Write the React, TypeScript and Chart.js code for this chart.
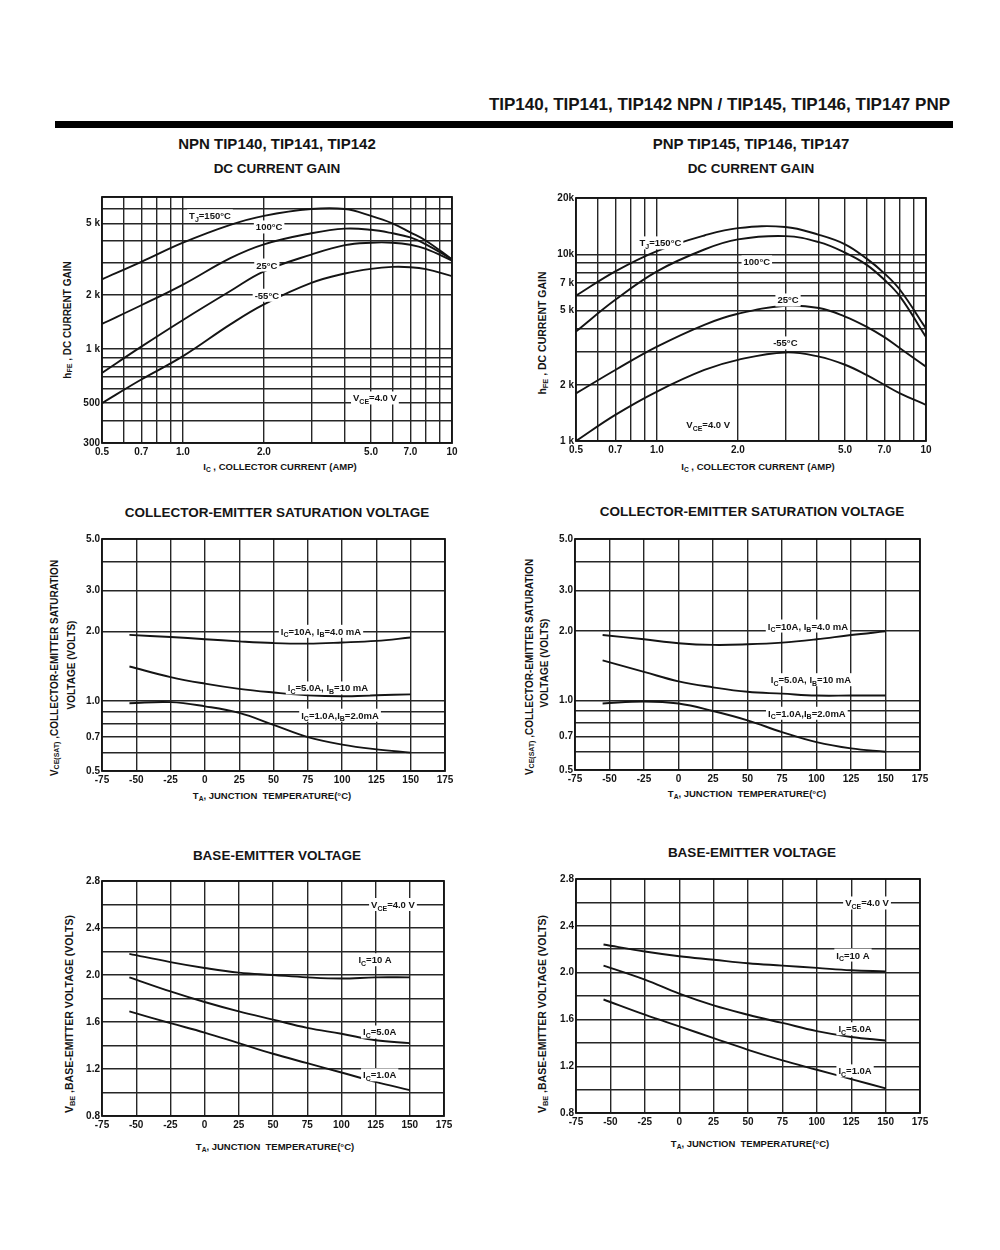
import React, { useEffect, useRef } from 'react';
import { Chart, registerables } from 'chart.js';

Chart.register(...registerables);

const FONT = '"Liberation Sans", Arial, Helvetica, sans-serif';

// ---------- DC current gain (hFE vs IC, VCE = 4.0 V) ----------
const GAIN_IC = [0.5, 0.7, 1.0, 1.5, 2.0, 3.0, 4.0, 5.0, 6.0, 7.0, 8.0, 10];
const NPN_HFE_150 = [2440, 3050, 3900, 4900, 5500, 6000, 6000, 5500, 5000, 4450, 4000, 3150];
const NPN_HFE_100 = [1380, 1750, 2280, 3200, 3820, 4400, 4670, 4600, 4400, 4170, 3820, 3150];
const NPN_HFE_25 = [736, 1030, 1450, 2100, 2700, 3350, 3780, 3900, 3900, 3800, 3600, 3100];
const NPN_HFE_M55 = [500, 676, 912, 1370, 1770, 2330, 2630, 2790, 2860, 2850, 2780, 2540];
const PNP_HFE_150 = [6000, 8100, 10400, 12600, 13800, 14000, 12700, 11300, 9500, 7900, 6450, 4000];
const PNP_HFE_100 = [3860, 5700, 8100, 10600, 12000, 12500, 11600, 10200, 8800, 7300, 5950, 3600];
const PNP_HFE_25 = [1800, 2400, 3200, 4190, 4800, 5300, 5150, 4640, 4100, 3600, 3140, 2500];
const PNP_HFE_M55 = [1000, 1380, 1840, 2400, 2720, 2980, 2830, 2560, 2260, 2000, 1800, 1560];

const GAIN_X_TICKS = [0.5, 0.6, 0.7, 0.8, 0.9, 1, 2, 3, 4, 5, 6, 7, 8, 9, 10];
const GAIN_X_LABELS = ['0.5', '', '0.7', '', '', '1.0', '2.0', '', '', '5.0', '', '7.0', '', '', '10'];
const NPN_HFE_TICKS = [300, 400, 500, 600, 700, 800, 900, 1000, 2000, 3000, 4000, 5000, 6000, 7000];
const NPN_HFE_LABELS = ['300', '', '500', '', '', '', '', '1 k', '2 k', '', '', '5 k', '', ''];
const PNP_HFE_TICKS = [1000, 2000, 3000, 4000, 5000, 6000, 7000, 8000, 9000, 10000, 20000];
const PNP_HFE_LABELS = ['1 k', '2 k', '', '', '5 k', '', '7 k', '', '', '10k', '20k'];

// ---------- Temperature curves ----------
const TEMP = [-55, -25, 0, 25, 50, 75, 100, 125, 150];
const TEMP_TICKS = [-75, -50, -25, 0, 25, 50, 75, 100, 125, 150, 175];
const TEMP_LABELS = ['-75', '-50', '-25', '0', '25', '50', '75', '100', '125', '150', '175'];

const NPN_VCESAT_10A = [1.93, 1.89, 1.85, 1.81, 1.78, 1.77, 1.79, 1.82, 1.88];
const NPN_VCESAT_5A = [1.41, 1.27, 1.19, 1.13, 1.09, 1.06, 1.05, 1.06, 1.07];
const NPN_VCESAT_1A = [0.98, 0.99, 0.95, 0.89, 0.79, 0.7, 0.65, 0.62, 0.6];
const PNP_VCESAT_10A = [1.92, 1.84, 1.77, 1.74, 1.75, 1.78, 1.84, 1.92, 1.99];
const PNP_VCESAT_5A = [1.49, 1.33, 1.21, 1.14, 1.09, 1.07, 1.05, 1.05, 1.05];
const PNP_VCESAT_1A = [0.97, 0.99, 0.97, 0.9, 0.82, 0.73, 0.66, 0.62, 0.6];
const VCESAT_TICKS = [0.5, 0.6, 0.7, 0.8, 0.9, 1, 2, 3, 4, 5];
const VCESAT_LABELS = ['0.5', '', '0.7', '', '', '1.0', '2.0', '3.0', '', '5.0'];

const NPN_VBE_10A = [2.18, 2.11, 2.06, 2.02, 2.0, 1.98, 1.97, 1.98, 1.98];
const NPN_VBE_5A = [1.98, 1.86, 1.77, 1.69, 1.62, 1.55, 1.5, 1.445, 1.42];
const NPN_VBE_1A = [1.69, 1.59, 1.51, 1.42, 1.33, 1.25, 1.17, 1.09, 1.02];
const PNP_VBE_10A = [2.24, 2.18, 2.14, 2.11, 2.08, 2.06, 2.04, 2.02, 2.01];
const PNP_VBE_5A = [2.06, 1.94, 1.82, 1.72, 1.64, 1.57, 1.5, 1.45, 1.42];
const PNP_VBE_1A = [1.77, 1.64, 1.54, 1.44, 1.34, 1.25, 1.17, 1.09, 1.01];
const VBE_TICKS = [0.8, 1.0, 1.2, 1.4, 1.6, 1.8, 2.0, 2.2, 2.4, 2.6, 2.8];
const VBE_LABELS = ['0.8', '', '1.2', '', '1.6', '', '2.0', '', '2.4', '', '2.8'];

type Part = [string, string?];
interface Note { x: number; y: number; parts: Part[] }
interface Spec {
  plot: [number, number, number, number];
  xType: string; yType: string;
  xMin: number; xMax: number; yMin: number; yMax: number;
  xTicks: number[]; xLabels: string[]; yTicks: number[]; yLabels: string[];
  xs: number[]; series: number[][]; notes: Note[];
}

const TJ = (t: string): Part[] => [[t]];
const SPECS: Spec[] = [
  {
    plot: [102, 197, 452, 443], xType: 'logarithmic', yType: 'logarithmic',
    xMin: 0.5, xMax: 10, yMin: 300, yMax: 7000,
    xTicks: GAIN_X_TICKS, xLabels: GAIN_X_LABELS, yTicks: NPN_HFE_TICKS, yLabels: NPN_HFE_LABELS,
    xs: GAIN_IC, series: [NPN_HFE_150, NPN_HFE_100, NPN_HFE_25, NPN_HFE_M55],
    notes: [
      { x: 1.26, y: 5500, parts: [['T'], ['J', 'sub'], ['=150°C']] },
      { x: 2.09, y: 4770, parts: TJ('100°C') },
      { x: 2.05, y: 2930, parts: TJ('25°C') },
      { x: 2.05, y: 1990, parts: TJ('-55°C') },
      { x: 5.17, y: 534, parts: [['V'], ['CE', 'sub'], ['=4.0 V']] },
    ],
  },
  {
    plot: [576, 198, 926, 441], xType: 'logarithmic', yType: 'logarithmic',
    xMin: 0.5, xMax: 10, yMin: 1000, yMax: 20000,
    xTicks: GAIN_X_TICKS, xLabels: GAIN_X_LABELS, yTicks: PNP_HFE_TICKS, yLabels: PNP_HFE_LABELS,
    xs: GAIN_IC, series: [PNP_HFE_150, PNP_HFE_100, PNP_HFE_25, PNP_HFE_M55],
    notes: [
      { x: 1.03, y: 11500, parts: [['T'], ['J', 'sub'], ['=150°C']] },
      { x: 2.35, y: 9100, parts: TJ('100°C') },
      { x: 3.07, y: 5690, parts: TJ('25°C') },
      { x: 3.0, y: 3350, parts: TJ('-55°C') },
      { x: 1.55, y: 1220, parts: [['V'], ['CE', 'sub'], ['=4.0 V']] },
    ],
  },
  {
    plot: [102, 539, 445, 771], xType: 'linear', yType: 'logarithmic',
    xMin: -75, xMax: 175, yMin: 0.5, yMax: 5,
    xTicks: TEMP_TICKS, xLabels: TEMP_LABELS, yTicks: VCESAT_TICKS, yLabels: VCESAT_LABELS,
    xs: TEMP, series: [NPN_VCESAT_10A, NPN_VCESAT_5A, NPN_VCESAT_1A],
    notes: [
      { x: 84.6, y: 2.0, parts: [['I'], ['C', 'sub'], ['=10A, I'], ['B', 'sub'], ['=4.0 mA']] },
      { x: 89.7, y: 1.14, parts: [['I'], ['C', 'sub'], ['=5.0A, I'], ['B', 'sub'], ['=10 mA']] },
      { x: 98.5, y: 0.87, parts: [['I'], ['C', 'sub'], ['=1.0A,I'], ['B', 'sub'], ['=2.0mA']] },
    ],
  },
  {
    plot: [575, 539, 920, 770], xType: 'linear', yType: 'logarithmic',
    xMin: -75, xMax: 175, yMin: 0.5, yMax: 5,
    xTicks: TEMP_TICKS, xLabels: TEMP_LABELS, yTicks: VCESAT_TICKS, yLabels: VCESAT_LABELS,
    xs: TEMP, series: [PNP_VCESAT_10A, PNP_VCESAT_5A, PNP_VCESAT_1A],
    notes: [
      { x: 93.8, y: 2.1, parts: [['I'], ['C', 'sub'], ['=10A, I'], ['B', 'sub'], ['=4.0 mA']] },
      { x: 96, y: 1.23, parts: [['I'], ['C', 'sub'], ['=5.0A, I'], ['B', 'sub'], ['=10 mA']] },
      { x: 93, y: 0.88, parts: [['I'], ['C', 'sub'], ['=1.0A,I'], ['B', 'sub'], ['=2.0mA']] },
    ],
  },
  {
    plot: [102, 881, 444, 1116], xType: 'linear', yType: 'linear',
    xMin: -75, xMax: 175, yMin: 0.8, yMax: 2.8,
    xTicks: TEMP_TICKS, xLabels: TEMP_LABELS, yTicks: VBE_TICKS, yLabels: VBE_LABELS,
    xs: TEMP, series: [NPN_VBE_10A, NPN_VBE_5A, NPN_VBE_1A],
    notes: [
      { x: 137.7, y: 2.6, parts: [['V'], ['CE', 'sub'], ['=4.0 V']] },
      { x: 124.6, y: 2.13, parts: [['I'], ['C', 'sub'], ['=10 A']] },
      { x: 128, y: 1.515, parts: [['I'], ['C', 'sub'], ['=5.0A']] },
      { x: 128, y: 1.15, parts: [['I'], ['C', 'sub'], ['=1.0A']] },
    ],
  },
  {
    plot: [576, 879, 920, 1113], xType: 'linear', yType: 'linear',
    xMin: -75, xMax: 175, yMin: 0.8, yMax: 2.8,
    xTicks: TEMP_TICKS, xLabels: TEMP_LABELS, yTicks: VBE_TICKS, yLabels: VBE_LABELS,
    xs: TEMP, series: [PNP_VBE_10A, PNP_VBE_5A, PNP_VBE_1A],
    notes: [
      { x: 136.5, y: 2.595, parts: [['V'], ['CE', 'sub'], ['=4.0 V']] },
      { x: 126.3, y: 2.15, parts: [['I'], ['C', 'sub'], ['=10 A']] },
      { x: 127.8, y: 1.52, parts: [['I'], ['C', 'sub'], ['=5.0A']] },
      { x: 127.8, y: 1.16, parts: [['I'], ['C', 'sub'], ['=1.0A']] },
    ],
  },
];

const PAD_L = 46, PAD_T = 10, PAD_R = 22, PAD_B = 22;
const INK = '#141414';
const NOTE_SIZE = 9.5;
const NOTE_SUB = 7;

function sheetPlugin(notes: Note[]) {
  return {
    id: 'sheet',
    afterDatasetsDraw(chart: any) {
      const { ctx, chartArea: a, scales } = chart;
      ctx.save();
      ctx.strokeStyle = INK;
      ctx.lineWidth = 1.8;
      ctx.strokeRect(a.left, a.top, a.right - a.left, a.bottom - a.top);
      for (const n of notes) {
        const px = scales.x.getPixelForValue(n.x);
        const py = scales.y.getPixelForValue(n.y);
        let w = 0;
        const widths = n.parts.map(([txt, k]) => {
          ctx.font = `bold ${k ? NOTE_SUB : NOTE_SIZE}px ${FONT}`;
          const m = ctx.measureText(txt).width;
          w += m;
          return m;
        });
        ctx.fillStyle = '#fff';
        ctx.fillRect(px - w / 2 - 2, py - 6.5, w + 4, 13);
        let x = px - w / 2;
        ctx.fillStyle = INK;
        ctx.textBaseline = 'alphabetic';
        ctx.textAlign = 'left';
        n.parts.forEach(([txt, k], i) => {
          ctx.font = `bold ${k ? NOTE_SUB : NOTE_SIZE}px ${FONT}`;
          ctx.fillText(txt, x, py + (k === 'sub' ? 6 : 3.5));
          x += widths[i];
        });
      }
      ctx.restore();
    },
  };
}

function buildConfig(s: Spec): any {
  const tickFont = { family: FONT, size: 10, weight: 'bold' as const };
  const grid = { color: '#262626', lineWidth: 1.4, drawTicks: false };
  return {
    type: 'line',
    data: {
      datasets: s.series.map((ys, i) => ({
        label: 'c' + i,
        data: s.xs.map((x, j) => ({ x, y: ys[j] })),
        borderColor: INK,
        borderWidth: 1.9,
        pointRadius: 0,
        fill: false,
        tension: 0.4,
      })),
    },
    options: {
      animation: false,
      responsive: false,
      devicePixelRatio: 1,
      layout: { padding: { left: 0, top: PAD_T, right: PAD_R, bottom: 0 } },
      plugins: { legend: { display: false }, tooltip: { enabled: false } },
      scales: {
        x: {
          type: s.xType, min: s.xMin, max: s.xMax,
          afterBuildTicks: (sc: any) => { sc.ticks = s.xTicks.map((v) => ({ value: v })); },
          afterFit: (sc: any) => { sc.height = PAD_B; sc.paddingLeft = 0; sc.paddingRight = 0; },
          ticks: {
            autoSkip: false, maxRotation: 0, minRotation: 0, padding: 3, color: INK, font: tickFont,
            callback: (_v: any, i: number) => s.xLabels[i],
          },
          grid, border: { display: false },
        },
        y: {
          type: s.yType, min: s.yMin, max: s.yMax,
          afterBuildTicks: (sc: any) => { sc.ticks = s.yTicks.map((v) => ({ value: v })); },
          afterFit: (sc: any) => { sc.width = PAD_L; sc.paddingTop = 0; sc.paddingBottom = 0; },
          ticks: {
            autoSkip: false, padding: 2, color: INK, font: tickFont,
            callback: (_v: any, i: number) => s.yLabels[i],
          },
          grid, border: { display: false },
        },
      },
    },
    plugins: [sheetPlugin(s.notes)],
  };
}

function Plot({ spec }: { spec: Spec }) {
  const ref = useRef<HTMLCanvasElement>(null);
  useEffect(() => {
    const chart = new Chart(ref.current as HTMLCanvasElement, buildConfig(spec));
    return () => chart.destroy();
  }, [spec]);
  const [l, t, r, b] = spec.plot;
  const w = r - l + PAD_L + PAD_R;
  const h = b - t + PAD_T + PAD_B;
  return (
    <canvas
      ref={ref}
      width={w}
      height={h}
      style={{ position: 'absolute', left: l - PAD_L, top: t - PAD_T, width: w, height: h }}
    />
  );
}

function Txt({ x, y, size, rot, children }: { x: number; y: number; size: number; rot?: boolean; children: React.ReactNode }) {
  return (
    <div
      style={{
        position: 'absolute', left: x, top: y, whiteSpace: 'pre', fontFamily: FONT, fontWeight: 'bold',
        fontSize: size, lineHeight: 1, color: INK,
        transform: `translate(-50%, -50%)${rot ? ' rotate(-90deg)' : ''}`,
      }}
    >
      {children}
    </div>
  );
}

const sub = (t: string) => <sub style={{ fontSize: '0.7em', verticalAlign: '-0.25em' }}>{t}</sub>;

export default function App() {
  return (
    <div style={{ position: 'absolute', left: 0, top: 0, width: 1000, height: 1250, background: '#fff', overflow: 'hidden' }}>
      <div style={{ position: 'absolute', right: 50, top: 96, fontFamily: FONT, fontWeight: 'bold', fontSize: 17, lineHeight: 1, color: INK, whiteSpace: 'nowrap' }}>
        TIP140, TIP141, TIP142 NPN / TIP145, TIP146, TIP147 PNP
      </div>
      <div style={{ position: 'absolute', left: 55, top: 121, width: 898, height: 7, background: '#000' }} />

      <Txt x={277} y={143} size={15}>NPN TIP140, TIP141, TIP142</Txt>
      <Txt x={277} y={169} size={13.5}>DC CURRENT GAIN</Txt>
      <Txt x={751} y={143} size={15}>PNP TIP145, TIP146, TIP147</Txt>
      <Txt x={751} y={169} size={13.5}>DC CURRENT GAIN</Txt>
      <Txt x={277} y={513} size={13.5}>COLLECTOR-EMITTER SATURATION VOLTAGE</Txt>
      <Txt x={752} y={512} size={13.5}>COLLECTOR-EMITTER SATURATION VOLTAGE</Txt>
      <Txt x={277} y={856} size={13.5}>BASE-EMITTER VOLTAGE</Txt>
      <Txt x={752} y={853} size={13.5}>BASE-EMITTER VOLTAGE</Txt>

      <Txt x={280} y={468} size={9.5}>I{sub('C')} , COLLECTOR CURRENT (AMP)</Txt>
      <Txt x={758} y={468} size={9.5}>I{sub('C')} , COLLECTOR CURRENT (AMP)</Txt>
      <Txt x={272} y={797} size={9.5}>T{sub('A')}, JUNCTION  TEMPERATURE(°C)</Txt>
      <Txt x={747} y={795} size={9.5}>T{sub('A')}, JUNCTION  TEMPERATURE(°C)</Txt>
      <Txt x={275} y={1148} size={9.5}>T{sub('A')}, JUNCTION  TEMPERATURE(°C)</Txt>
      <Txt x={750} y={1145} size={9.5}>T{sub('A')}, JUNCTION  TEMPERATURE(°C)</Txt>

      <Txt x={68} y={320} size={10} rot>h{sub('FE')} , DC CURRENT GAIN</Txt>
      <Txt x={543} y={333} size={10.5} rot>h{sub('FE')} , DC CURRENT GAIN</Txt>
      <Txt x={55} y={668} size={10} rot>V{sub('CE(SAT)')} ,COLLECTOR-EMITTER SATURATION</Txt>
      <Txt x={72} y={665} size={10} rot>VOLTAGE (VOLTS)</Txt>
      <Txt x={530} y={667} size={10} rot>V{sub('CE(SAT)')} ,COLLECTOR-EMITTER SATURATION</Txt>
      <Txt x={545} y={663} size={10} rot>VOLTAGE (VOLTS)</Txt>
      <Txt x={70} y={1014} size={10.5} rot>V{sub('BE')} ,BASE-EMITTER VOLTAGE (VOLTS)</Txt>
      <Txt x={543} y={1014} size={10.5} rot>V{sub('BE')} ,BASE-EMITTER VOLTAGE (VOLTS)</Txt>

      {SPECS.map((s, i) => (
        <Plot key={i} spec={s} />
      ))}
    </div>
  );
}
